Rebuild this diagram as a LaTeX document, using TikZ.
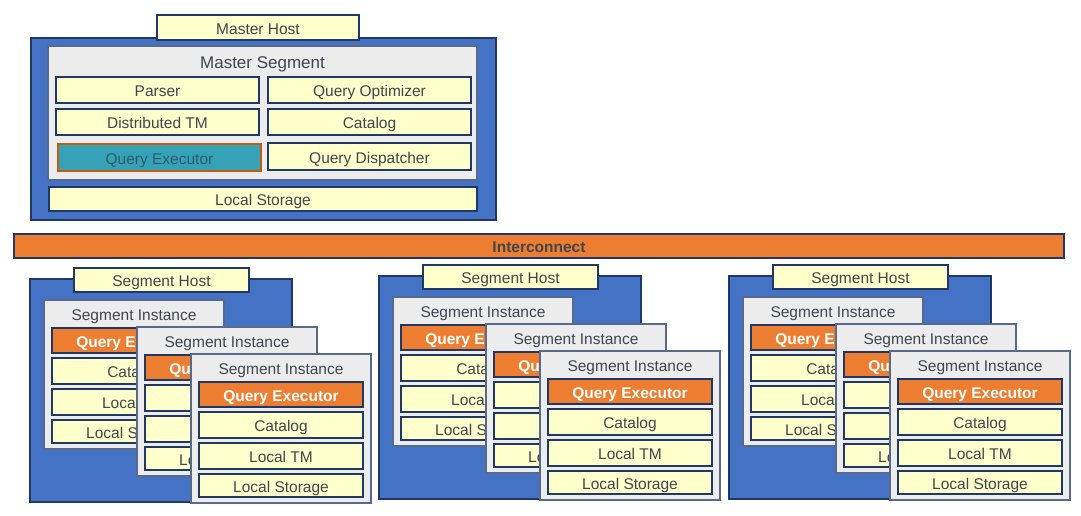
\documentclass[tikz,border=0pt]{standalone}
\usepackage{fontspec}
\setmainfont{Liberation Sans}
\usetikzlibrary{calc}
\definecolor{hostblue}{HTML}{4472C4}
\definecolor{navy}{HTML}{203864}
\definecolor{cellyellow}{HTML}{FFFFCC}
\definecolor{panelgrey}{HTML}{ECECEC}
\definecolor{qeorange}{HTML}{ED7D31}
\definecolor{qeteal}{HTML}{36A2B8}
\definecolor{qeedge}{HTML}{C55A11}
\definecolor{inkgrey}{HTML}{3F4650}
\definecolor{tealink}{HTML}{2F5A6A}

\begin{document}
\begin{tikzpicture}[x=1pt, y=-1pt,
  every node/.style={inner sep=0pt, outer sep=0pt, anchor=north west,
    text=inkgrey, font=\fontsize{15.5}{18}\selectfont},
  boxsize/.style 2 args={minimum width=#1, minimum height=#2,
    text height=13.5pt, text depth=0pt},
  hostbox/.style={draw=navy, fill=hostblue, line width=2pt},
  panel/.style={draw=navy!75, fill=panelgrey, line width=1.5pt},
  cell/.style={draw=navy, fill=cellyellow, line width=2pt},
  qexec/.style={draw=navy, fill=qeorange, line width=2pt, text=white,
    font=\fontsize{15.5}{18}\selectfont\bfseries}]
  \useasboundingbox (0,0) rectangle (1081,516);

  % master host
  \node[hostbox, boxsize={465}{182}] (master) at (31,38) {};
  \node[cell, boxsize={202}{25}] (masterhost) at (157,15) {Master Host};
  \node[panel, boxsize={429}{134}] (masterseg) at (48,46) {};
  \node[anchor=base, font=\fontsize{17}{20}\selectfont] (mastersegtitle)
    at (262.5,68.5) {Master Segment};
  \node[cell, boxsize={203}{26}] (parser) at (56,77) {Parser};
  \node[cell, boxsize={203}{26}] (optimizer) at (268,77) {Query Optimizer};
  \node[cell, boxsize={203}{26}] (disttm) at (56,109) {Distributed TM};
  \node[cell, boxsize={203}{26}] (mastercatalog) at (268,109) {Catalog};
  \node[draw=qeedge, fill=qeteal, line width=2pt, text=tealink,
    boxsize={203}{27}] (masterexec) at (58,144) {Query Executor};
  \node[cell, boxsize={203}{27}] (dispatcher) at (268,143) {Query Dispatcher};
  \node[cell, boxsize={428}{24}] (masterstorage) at (49,187) {Local Storage};

  % interconnect
  \node[draw=navy, fill=qeorange, line width=2pt, boxsize={1050}{24},
    font=\fontsize{15.5}{18}\selectfont\bfseries] (interconnect)
    at (14,234) {Interconnect};

  % segment hosts
  \foreach \g/\dx/\dy in {1/0/0, 2/349/-3, 3/699/-3} {
    \begin{scope}[shift={(\dx,\dy)}]
      \node[hostbox, boxsize={262}{223}] (host\g) at (30,279) {};
      \node[cell, boxsize={175}{24}] (seghost\g) at (74,268) {Segment Host};
      \foreach \i/\ix/\iy in {1/44/300, 2/137/327, 3/191/354} {
        \begin{scope}[shift={(\ix,\iy)}]
          \node[panel, boxsize={180}{149}] (inst\g\i) at (0,0) {};
          \node[anchor=base] (insttitle\g\i) at (90,20.5) {Segment Instance};
          \node[qexec, boxsize={164}{25}] (exec\g\i) at (8,28) {Query Executor};
          \node[cell, boxsize={164}{26}] (catalog\g\i) at (8,58) {Catalog};
          \node[cell, boxsize={164}{26}] (localtm\g\i) at (8,89) {Local TM};
          \node[cell, boxsize={164}{23}] (storage\g\i) at (8,120) {Local Storage};
        \end{scope}
      }
    \end{scope}
  }
\end{tikzpicture}
\end{document}
